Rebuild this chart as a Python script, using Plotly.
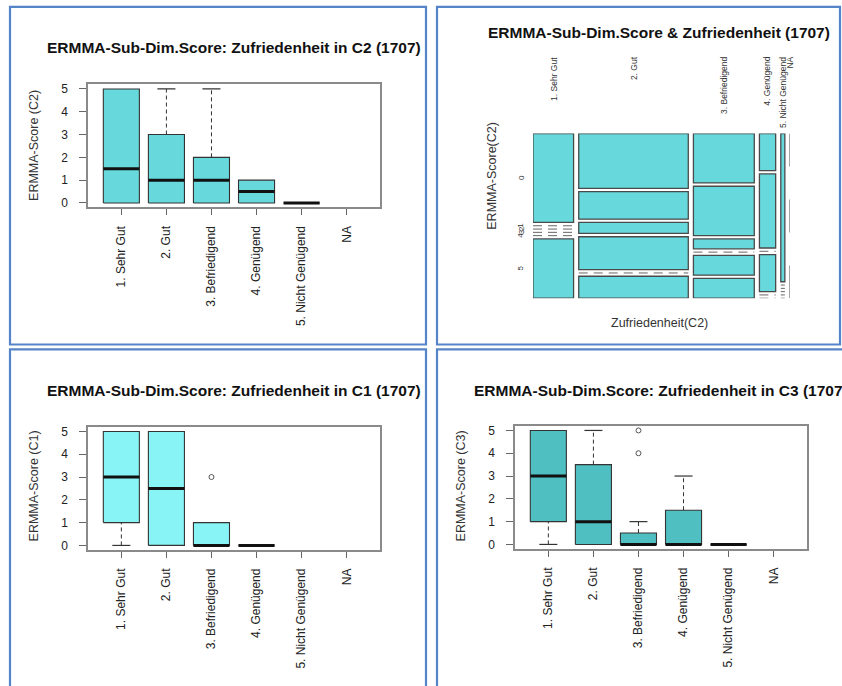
import plotly.graph_objects as go

W, H = 842, 686

categories = ["1. Sehr Gut", "2. Gut", "3. Befriedigend", "4. Genügend",
              "5. Nicht Genügend", "NA"]
cat_pos = [1, 2, 3, 4, 5, 6]

# Box statistics per satisfaction level (None = no observations)
c2_q1 = [0, 0, 0, 0, 0, None]
c2_med = [1.5, 1, 1, 0.5, 0, None]
c2_q3 = [5, 3, 2, 1, 0, None]
c2_lo = [0, 0, 0, 0, 0, None]
c2_hi = [5, 5, 5, 1, 0, None]
c2_out = [[], [], [], [], [], []]

c1_q1 = [1, 0, 0, 0, None, None]
c1_med = [3, 2.5, 0, 0, None, None]
c1_q3 = [5, 5, 1, 0, None, None]
c1_lo = [0, 0, 0, 0, None, None]
c1_hi = [5, 5, 1, 0, None, None]
c1_out = [[], [], [3], [], [], []]

c3_q1 = [1, 0, 0, 0, 0, None]
c3_med = [3, 1, 0, 0, 0, None]
c3_q3 = [5, 3.5, 0.5, 1.5, 0, None]
c3_lo = [0, 0, 0, 0, 0, None]
c3_hi = [5, 5, 1, 3, 0, None]
c3_out = [[], [], [4, 5], [], [], []]

score_ticks = [0, 1, 2, 3, 4, 5]

# Mosaic: counts of score levels (rows) within each satisfaction level
score_levels = ["0", "1", "2", "3", "4", "5"]
mosaic_counts = [
    [6, 0, 0, 0, 0, 4],     # 1. Sehr Gut
    [10, 5, 2, 6, 0, 4],    # 2. Gut
    [5, 5, 1, 0, 2, 2],     # 3. Befriedigend
    [1, 2, 0, 1, 0, 0],     # 4. Genügend
    [1, 0, 0, 0, 0, 0],     # 5. Nicht Genügend
    [0, 0, 0, 0, 0, 0],     # NA
]

FONT = "Liberation Sans, Arial, sans-serif"
fill_c2 = "#67d9dc"
fill_c1 = "#88f4f6"
fill_c3 = "#50bfc2"
mosaic_fill = "#67d9dc"


def px_x(px):
    return px / W


def px_y(py):
    return 1 - py / H


fig = go.Figure()


def add_boxes(xa, ya, q1, med, q3, lo, hi, out, fill):
    half, cap = 0.4, 0.2
    bx, by, mx, my, wx, wy, cx, cy, ox, oy = ([] for _ in range(10))
    for i, p in enumerate(cat_pos):
        if med[i] is None:
            continue
        bx += [p - half, p + half, p + half, p - half, p - half, None]
        by += [q1[i], q1[i], q3[i], q3[i], q1[i], None]
        mx += [p - half, p + half, None]
        my += [med[i], med[i], None]
        if hi[i] > q3[i]:
            wx += [p, p, None]
            wy += [q3[i], hi[i], None]
            cx += [p - cap, p + cap, None]
            cy += [hi[i], hi[i], None]
        if lo[i] < q1[i]:
            wx += [p, p, None]
            wy += [lo[i], q1[i], None]
            cx += [p - cap, p + cap, None]
            cy += [lo[i], lo[i], None]
        for v in out[i]:
            ox.append(p)
            oy.append(v)
    common = dict(xaxis=xa, yaxis=ya, showlegend=False, hoverinfo="skip")
    fig.add_trace(go.Scatter(x=wx, y=wy, mode="lines",
                             line=dict(color="#333333", width=1, dash="4px,3px"), **common))
    fig.add_trace(go.Scatter(x=cx, y=cy, mode="lines",
                             line=dict(color="#333333", width=1.2), **common))
    fig.add_trace(go.Scatter(x=bx, y=by, mode="lines", fill="toself", fillcolor=fill,
                             line=dict(color="#333333", width=1.1), **common))
    fig.add_trace(go.Scatter(x=mx, y=my, mode="lines",
                             line=dict(color="#111111", width=3), **common))
    if ox:
        fig.add_trace(go.Scatter(x=ox, y=oy, mode="markers",
                                 marker=dict(symbol="circle-open", size=5,
                                             color="#555555", line=dict(width=1)),
                                 **common))


def box_axes(n, x0, x1, y0, y1):
    xname = "xaxis" if n == 1 else f"xaxis{n}"
    yname = "yaxis" if n == 1 else f"yaxis{n}"
    anchor_x = "y" if n == 1 else f"y{n}"
    anchor_y = "x" if n == 1 else f"x{n}"
    fig.layout[xname] = dict(
        domain=[px_x(x0), px_x(x1)], anchor=anchor_x, range=[0.26, 6.74],
        tickmode="array", tickvals=cat_pos, ticktext=categories, tickangle=-90,
        ticks="outside", ticklen=6, tickcolor="#666666", tickwidth=1,
        ticklabelstandoff=6,
        showline=True, mirror=True, linecolor="#8a8a8a", linewidth=1.5,
        showgrid=False, zeroline=False, fixedrange=True,
        tickfont=dict(family=FONT, size=12, color="#222222"))
    fig.layout[yname] = dict(
        domain=[px_y(y1), px_y(y0)], anchor=anchor_y, range=[-0.2, 5.2],
        tickmode="array", tickvals=score_ticks,
        ticktext=[str(v) for v in score_ticks],
        ticks="outside", ticklen=7, tickcolor="#666666", tickwidth=1,
        ticklabelstandoff=9,
        showline=True, mirror=True, linecolor="#8a8a8a", linewidth=1.5,
        showgrid=False, zeroline=False, fixedrange=True,
        tickfont=dict(family=FONT, size=12, color="#222222"))


# Box plot panels
box_axes(1, 88, 380, 83, 207)
box_axes(3, 88, 380, 428, 552)
box_axes(4, 515, 807, 427, 551)

add_boxes("x", "y", c2_q1, c2_med, c2_q3, c2_lo, c2_hi, c2_out, fill_c2)
add_boxes("x3", "y3", c1_q1, c1_med, c1_q3, c1_lo, c1_hi, c1_out, fill_c1)
add_boxes("x4", "y4", c3_q1, c3_med, c3_q3, c3_lo, c3_hi, c3_out, fill_c3)

# Mosaic panel axes (unit square, score levels top to bottom)
fig.layout["xaxis2"] = dict(domain=[px_x(533), px_x(790)], anchor="y2", range=[0, 1],
                            visible=False, fixedrange=True)
fig.layout["yaxis2"] = dict(domain=[px_y(298.4), px_y(132.5)], anchor="x2", range=[1, 0],
                            visible=False, fixedrange=True)

shapes = []
annotations = []

off = 0.10
ncol = len(mosaic_counts)
nrow = len(score_levels)
col_tot = [sum(c) for c in mosaic_counts]
grand = sum(col_tot)
white_x = off / (ncol - 1)
white_y = off / (nrow - 1)

x_left = 0.0
col_centers = []
first_col_centers = []
for ci, counts in enumerate(mosaic_counts):
    width = (1 - off) * col_tot[ci] / grand
    x_right = x_left + width
    col_centers.append((x_left + x_right) / 2)
    if col_tot[ci] == 0:
        shapes.append(dict(type="line", xref="x2", yref="y2", x0=x_left, x1=x_left,
                           y0=0, y1=1, line=dict(color="#777777", width=1.3,
                                                  dash="33px,33px")))
    else:
        y_top = 0.0
        for ri, n in enumerate(counts):
            h = (1 - off) * n / col_tot[ci]
            y_bot = y_top + h
            if ci == 0:
                first_col_centers.append((y_top + y_bot) / 2)
            if n == 0:
                shapes.append(dict(type="line", xref="x2", yref="y2", x0=x_left, x1=x_right,
                                   y0=y_top, y1=y_top,
                                   line=dict(color="#666666", width=1, dash="9px,6px")))
            else:
                shapes.append(dict(type="rect", xref="x2", yref="y2", x0=x_left, x1=x_right,
                                   y0=y_top, y1=y_bot, fillcolor=mosaic_fill,
                                   line=dict(color="#4a4a4a", width=1.3), layer="above"))
            y_top = y_bot + white_y
    x_left = x_right + white_x

# Mosaic column labels
for ci, lab in enumerate(categories):
    annotations.append(dict(xref="x2", yref="paper", x=col_centers[ci], y=px_y(53),
                            text=lab, textangle=-90, showarrow=False,
                            xanchor="center", yanchor="top",
                            font=dict(family=FONT, size=8.5, color="#333333")))
# Mosaic row labels (from the first column)
for ri, lab in enumerate(score_levels):
    annotations.append(dict(xref="paper", yref="y2", x=px_x(521), y=first_col_centers[ri],
                            text=lab, textangle=-90, showarrow=False,
                            xanchor="center", yanchor="middle",
                            font=dict(family=FONT, size=8, color="#333333")))

# Titles and axis titles
def text(x, y, s, size, bold=False, angle=0, color="#111111"):
    annotations.append(dict(xref="paper", yref="paper", x=px_x(x), y=px_y(y),
                            text=f"<b>{s}</b>" if bold else s, textangle=angle,
                            showarrow=False, xanchor="center", yanchor="middle",
                            font=dict(family=FONT, size=size, color=color)))


text(234, 46, "ERMMA-Sub-Dim.Score: Zufriedenheit in C2 (1707)", 15.5, bold=True)
text(234, 391, "ERMMA-Sub-Dim.Score: Zufriedenheit in C1 (1707)", 15.5, bold=True)
text(661, 391, "ERMMA-Sub-Dim.Score: Zufriedenheit in C3 (1707)", 15.5, bold=True)
text(659, 31, "ERMMA-Sub-Dim.Score &amp; Zufriedenheit (1707)", 15.5, bold=True)

text(34, 145, "ERMMA-Score (C2)", 12.5, angle=-90, color="#333333")
text(34, 488, "ERMMA-Score (C1)", 12.5, angle=-90, color="#333333")
text(461, 488, "ERMMA-Score (C3)", 12.5, angle=-90, color="#333333")
text(492, 175, "ERMMA-Score(C2)", 12.5, angle=-90, color="#333333")
text(659, 323, "Zufriedenheit(C2)", 12.5, color="#333333")

# Panel frames
for (x0, y0, x1, y1) in [(10, 5, 426, 345), (437, 5, 840, 345),
                         (10, 350, 426, 700), (437, 350, 860, 700)]:
    shapes.append(dict(type="rect", xref="paper", yref="paper",
                       x0=px_x(x0), x1=px_x(x1), y0=px_y(y1), y1=px_y(y0),
                       line=dict(color="#5585c8", width=2.2), fillcolor="rgba(0,0,0,0)"))

fig.update_layout(
    width=W, height=H, margin=dict(l=0, r=0, t=0, b=0),
    paper_bgcolor="white", plot_bgcolor="white",
    showlegend=False, shapes=shapes, annotations=annotations,
    font=dict(family=FONT),
)

fig.write_html("out.html")
